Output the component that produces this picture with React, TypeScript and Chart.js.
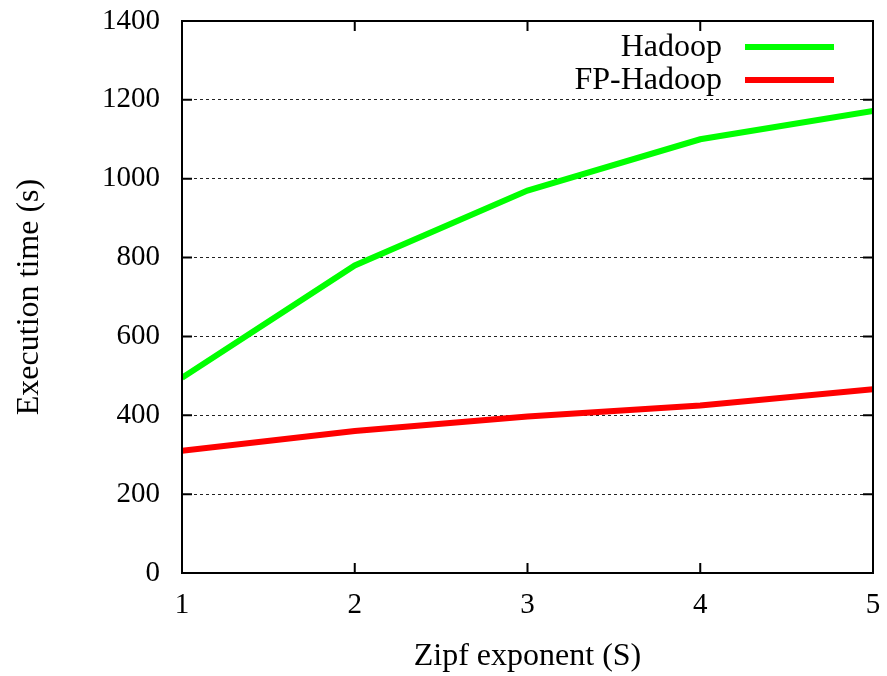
import React, { useEffect, useRef } from "react";
import { Chart, registerables } from "chart.js";

Chart.register(...registerables);

const xValues = [1, 2, 3, 4, 5];
const hadoop = [495, 780, 970, 1100, 1172];
const fpHadoop = [310, 360, 397, 425, 466];
const seriesLabels = ["Hadoop", "FP-Hadoop"];
const seriesColors = ["#00ff00", "#ff0000"];
const yTicks = [0, 200, 400, 600, 800, 1000, 1200, 1400];
const xTitle = "Zipf exponent (S)";
const yTitle = "Execution time (s)";

const FONT = "'Liberation Serif', 'Times New Roman', serif";

const framePlugin = {
  id: "gnuplotFrame",
  afterDatasetsDraw(chart: any) {
    const { ctx, chartArea } = chart;
    const xs = chart.scales.x;
    const ys = chart.scales.y;
    const { left, right, top, bottom } = chartArea;
    ctx.save();
    ctx.strokeStyle = "#000";
    ctx.lineWidth = 2;
    ctx.setLineDash([]);
    ctx.strokeRect(left, top, right - left, bottom - top);
    const tl = 10;
    ctx.beginPath();
    for (const v of yTicks) {
      const y = ys.getPixelForValue(v);
      ctx.moveTo(left, y);
      ctx.lineTo(left + tl, y);
      ctx.moveTo(right, y);
      ctx.lineTo(right - tl, y);
    }
    for (const v of xValues) {
      const x = xs.getPixelForValue(v);
      ctx.moveTo(x, bottom);
      ctx.lineTo(x, bottom - tl);
      ctx.moveTo(x, top);
      ctx.lineTo(x, top + tl);
    }
    ctx.stroke();

    // legend
    ctx.font = `32px ${FONT}`;
    ctx.textAlign = "right";
    ctx.textBaseline = "middle";
    ctx.fillStyle = "#000";
    const rows = [47, 80];
    chart.data.datasets.forEach((ds: any, i: number) => {
      const y = rows[i];
      ctx.fillText(ds.label, 722, y + 1);
      ctx.beginPath();
      ctx.strokeStyle = ds.borderColor;
      ctx.lineWidth = 6;
      ctx.moveTo(745, y);
      ctx.lineTo(834, y);
      ctx.stroke();
    });
    ctx.restore();
  },
};

export default function App() {
  const ref = useRef<HTMLCanvasElement>(null);
  useEffect(() => {
    if (!ref.current) return;
    const chart = new Chart(ref.current, {
      type: "line",
      data: {
        datasets: [
          {
            label: seriesLabels[0],
            data: xValues.map((x, i) => ({ x, y: hadoop[i] })),
            borderColor: seriesColors[0],
            backgroundColor: seriesColors[0],
            borderWidth: 6,
            pointRadius: 0,
            tension: 0,
          },
          {
            label: seriesLabels[1],
            data: xValues.map((x, i) => ({ x, y: fpHadoop[i] })),
            borderColor: seriesColors[1],
            backgroundColor: seriesColors[1],
            borderWidth: 6,
            pointRadius: 0,
            tension: 0,
          },
        ],
      },
      options: {
        animation: false,
        responsive: true,
        maintainAspectRatio: false,
        layout: { padding: { top: 21, right: 14, left: 0, bottom: 0 } },
        plugins: { legend: { display: false }, tooltip: { enabled: false } },
        scales: {
          x: {
            type: "linear",
            min: 1,
            max: 5,
            afterFit: (s: any) => {
              s.height = 103;
              s.paddingLeft = 0;
              s.paddingRight = 0;
            },
            afterBuildTicks: (s: any) => {
              s.ticks = xValues.map((v) => ({ value: v }));
            },
            border: { display: false },
            grid: { display: false, drawTicks: false },
            ticks: {
              color: "#000",
              padding: 15,
              font: { family: FONT, size: 29 },
              maxRotation: 0,
              callback: (v: any) => String(v),
            },
            title: {
              display: true,
              text: xTitle,
              color: "#000",
              font: { family: FONT, size: 32 },
              padding: { top: 0, bottom: 0 },
            },
          },
          y: {
            min: 0,
            max: 1400,
            afterFit: (s: any) => {
              s.width = 182;
              s.paddingTop = 0;
              s.paddingBottom = 0;
            },
            afterBuildTicks: (s: any) => {
              s.ticks = yTicks.map((v) => ({ value: v }));
            },
            border: { display: false, dash: [3, 3] },
            grid: {
              drawTicks: false,
              color: (c: any) =>
                c.tick && (c.tick.value === 0 || c.tick.value === 1400)
                  ? "rgba(0,0,0,0)"
                  : "#222",
              lineWidth: 1,
            },
            ticks: {
              color: "#000",
              padding: 22,
              font: { family: FONT, size: 29 },
              callback: (v: any) => String(v),
            },
            title: {
              display: true,
              text: yTitle,
              color: "#000",
              font: { family: FONT, size: 32 },
              padding: { top: 10, bottom: 0 },
            },
          },
        },
      },
      plugins: [framePlugin],
    });
    return () => chart.destroy();
  }, []);
  return (
    <div style={{ position: "fixed", left: 0, top: 0, width: 887, height: 676, background: "#fff" }}>
      <canvas ref={ref} />
    </div>
  );
}
